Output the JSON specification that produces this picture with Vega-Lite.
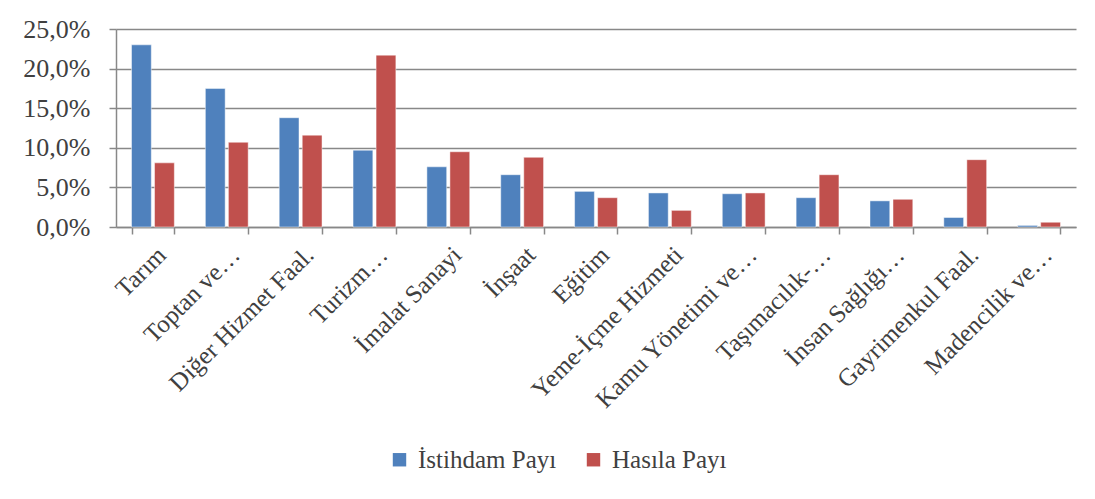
{
  "$schema": "https://vega.github.io/schema/vega-lite/v6.json",
  "autosize": "none",
  "width": 960,
  "height": 198,
  "padding": {"left": 116, "top": 29, "right": 19, "bottom": 272},
  "background": "white",
  "data": {"values": [
    {"sektor": "Tarım", "seri": "İstihdam Payı", "pay": 0.230},
    {"sektor": "Tarım", "seri": "Hasıla Payı", "pay": 0.081},
    {"sektor": "Toptan ve…", "seri": "İstihdam Payı", "pay": 0.175},
    {"sektor": "Toptan ve…", "seri": "Hasıla Payı", "pay": 0.107},
    {"sektor": "Diğer Hizmet Faal.", "seri": "İstihdam Payı", "pay": 0.138},
    {"sektor": "Diğer Hizmet Faal.", "seri": "Hasıla Payı", "pay": 0.116},
    {"sektor": "Turizm…", "seri": "İstihdam Payı", "pay": 0.097},
    {"sektor": "Turizm…", "seri": "Hasıla Payı", "pay": 0.217},
    {"sektor": "İmalat Sanayi", "seri": "İstihdam Payı", "pay": 0.076},
    {"sektor": "İmalat Sanayi", "seri": "Hasıla Payı", "pay": 0.095},
    {"sektor": "İnşaat", "seri": "İstihdam Payı", "pay": 0.066},
    {"sektor": "İnşaat", "seri": "Hasıla Payı", "pay": 0.088},
    {"sektor": "Eğitim", "seri": "İstihdam Payı", "pay": 0.045},
    {"sektor": "Eğitim", "seri": "Hasıla Payı", "pay": 0.037},
    {"sektor": "Yeme-İçme Hizmeti", "seri": "İstihdam Payı", "pay": 0.043},
    {"sektor": "Yeme-İçme Hizmeti", "seri": "Hasıla Payı", "pay": 0.021},
    {"sektor": "Kamu Yönetimi ve…", "seri": "İstihdam Payı", "pay": 0.042},
    {"sektor": "Kamu Yönetimi ve…", "seri": "Hasıla Payı", "pay": 0.043},
    {"sektor": "Taşımacılık-…", "seri": "İstihdam Payı", "pay": 0.037},
    {"sektor": "Taşımacılık-…", "seri": "Hasıla Payı", "pay": 0.066},
    {"sektor": "İnsan Sağlığı…", "seri": "İstihdam Payı", "pay": 0.033},
    {"sektor": "İnsan Sağlığı…", "seri": "Hasıla Payı", "pay": 0.035},
    {"sektor": "Gayrimenkul Faal.", "seri": "İstihdam Payı", "pay": 0.012},
    {"sektor": "Gayrimenkul Faal.", "seri": "Hasıla Payı", "pay": 0.085},
    {"sektor": "Madencilik ve…", "seri": "İstihdam Payı", "pay": 0.002},
    {"sektor": "Madencilik ve…", "seri": "Hasıla Payı", "pay": 0.006}
  ]},
  "mark": {"type": "bar", "stroke": "white", "strokeWidth": 0.8, "strokeOpacity": 0.6},
  "encoding": {
    "x": {
      "field": "sektor", "type": "nominal", "sort": null,
      "scale": {"paddingInner": 0.42, "paddingOuter": 0.21},
      "axis": {
        "title": null, "labelAngle": -45, "tickBand": "extent",
        "labelFont": "Liberation Serif", "labelFontSize": 25, "labelColor": "#404040",
        "labelLimit": 400, "labelPadding": 8,
        "domainColor": "#888888", "domainWidth": 1.5,
        "tickColor": "#888888", "tickWidth": 1.5, "tickSize": 7,
        "grid": false
      }
    },
    "xOffset": {
      "field": "seri", "type": "nominal",
      "sort": ["İstihdam Payı", "Hasıla Payı"],
      "scale": {"paddingInner": 0.14, "paddingOuter": 0}
    },
    "y": {
      "field": "pay", "type": "quantitative",
      "scale": {"domain": [0, 0.25], "nice": false},
      "axis": {
        "title": null, "values": [0, 0.05, 0.1, 0.15, 0.2, 0.25],
        "labelExpr": "replace(format(datum.value, '.1%'), '.', ',')",
        "labelFont": "Liberation Serif", "labelFontSize": 26, "labelColor": "#404040",
        "labelPadding": 19,
        "domainColor": "#888888", "domainWidth": 1.5,
        "tickColor": "#888888", "tickWidth": 1.5, "tickSize": 7,
        "grid": true, "gridColor": "#888888", "gridWidth": 1.5
      }
    },
    "color": {
      "field": "seri", "type": "nominal",
      "scale": {"domain": ["İstihdam Payı", "Hasıla Payı"], "range": ["#4F81BD", "#C0504D"]},
      "legend": {
        "title": null, "orient": "none", "legendX": 271, "legendY": 418,
        "direction": "horizontal", "symbolType": "square", "symbolSize": 180,
        "symbolStrokeWidth": 0, "symbolOpacity": 1,
        "labelFont": "Liberation Serif", "labelFontSize": 25, "labelColor": "#404040",
        "labelOffset": 6, "columnPadding": 24, "labelLimit": 400
      }
    }
  },
  "config": {"view": {"stroke": null}}
}
